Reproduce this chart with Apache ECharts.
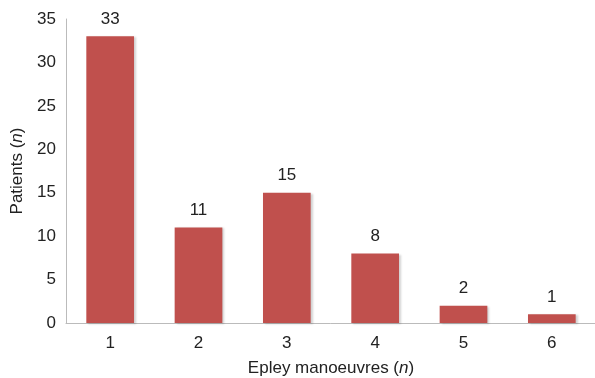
<!DOCTYPE html>
<html><head><meta charset="utf-8">
<script src="https://cdn.jsdelivr.net/npm/echarts@6/dist/echarts.min.js"></script>
<style>html,body{margin:0;padding:0;background:#fff}#c{width:595px;height:378px}</style>
</head><body><div id="c"></div>
<script>
const categories = ['1','2','3','4','5','6'];
const patients = [33, 11, 15, 8, 2, 1];
const yTicks = [0, 5, 10, 15, 20, 25, 30, 35];

const chart = echarts.init(document.getElementById('c'), null, {renderer:'canvas'});
const font = 'Helvetica, Arial, "Liberation Sans", sans-serif';
const fs = 17;
const italic = {i:{fontStyle:'italic', fontFamily:font, fontSize:fs, color:'#222'}};
chart.setOption({
  animation:false,
  grid:{left:66, top:19, width:530, height:304, containLabel:false, outerBoundsMode:'none'},
  xAxis:{
    type:'category', data:categories,
    name:'Epley manoeuvres ({i|n})',
    nameLocation:'middle', nameGap:37,
    nameTextStyle:{fontFamily:font, fontSize:fs, color:'#222', rich:italic},
    axisLine:{lineStyle:{color:'#bbb', width:1}},
    axisTick:{show:false},
    axisLabel:{fontFamily:font, fontSize:fs, color:'#222', margin:12}
  },
  yAxis:{
    type:'value', min:yTicks[0], max:yTicks[yTicks.length-1], interval:5,
    name:'Patients ({i|n})', nameLocation:'middle', nameGap:40,
    nameTextStyle:{fontFamily:font, fontSize:fs, color:'#222', rich:italic},
    axisLine:{show:true, lineStyle:{color:'#bbb', width:1}},
    axisTick:{show:false},
    splitLine:{show:false},
    axisLabel:{fontFamily:font, fontSize:fs, color:'#222', margin:10}
  },
  series:[{
    type:'bar', data:patients, barWidth:'54%',
    itemStyle:{color:'#C0504D', shadowColor:'rgba(0,0,0,0.18)', shadowBlur:2, shadowOffsetX:2, shadowOffsetY:1},
    label:{show:true, position:'top', distance:9, fontFamily:font, fontSize:fs, color:'#222'}
  }]
});
</script></body></html>
